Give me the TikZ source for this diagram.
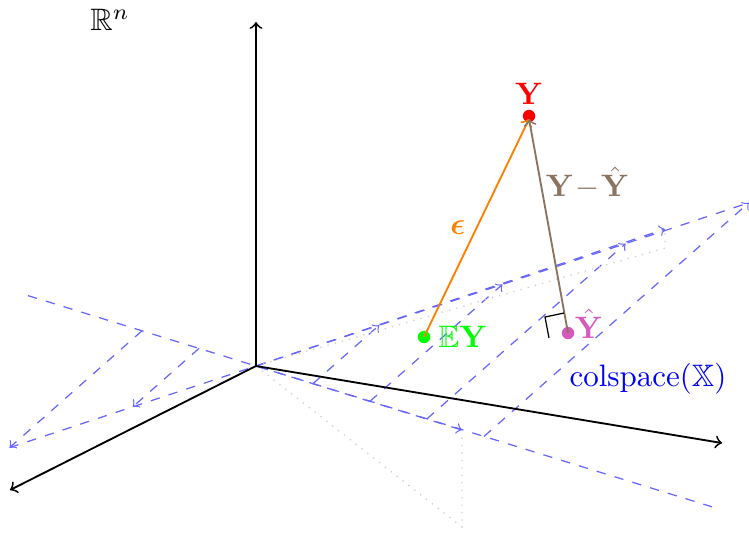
\documentclass[tikz,border=0pt]{standalone}
\usepackage{amsmath}
\usepackage{amssymb}
\usepackage{bm}
\usepackage{xcolor}
\usepackage{tikz}
\usetikzlibrary{positioning,calc}
\definecolor{pHat}{RGB}{214,90,190}
\definecolor{pRes}{RGB}{140,115,95}
\tikzset{
  axis/.style={->, semithick, black},
  planeline/.style={dashed, blue!60, thin},
  planevec/.style={planeline, ->},
  proj/.style={dotted, gray!40, thin},
  pt/.style={circle, inner sep=0pt, minimum size=4pt},
  seg/.style={->, semithick},
}
\begin{document}
\begin{tikzpicture}[x=0.01134cm, y=0.01134cm]
  \useasboundingbox (-256,-166) rectangle (493,366);

  \coordinate (O) at (0,0);
  % directions spanning the column space
  \coordinate (r) at (57,-17.6);
  \coordinate (s) at (123.2,40.8);
  \coordinate (x1) at (206,-64);
  \coordinate (x2) at (409,137);
  \coordinate (x1f) at (206,-161);
  \coordinate (x2f) at (409,118);

  % the plane
  \draw[planeline] ($-4*(r)$) -- ($8*(r)$);
  \draw[planeline] ($-2*(s)$) -- ($4*(s)$);
  \foreach \k in {-2,-1,1,2,3,4}
    \draw[planevec] ($\k*(r)$) -- ($\k*(s)$);
  \draw[planevec] (O) -- (x1);
  \draw[planevec] (O) -- (x2);

  % projections onto the floor
  \draw[proj] (O) -- (x1f) -- (x1);
  \draw[proj] (O) -- (x2f) -- (x2);

  % axes
  \coordinate (az) at (0,344);
  \coordinate (ax) at (-246,-124);
  \coordinate (ay) at (466,-77);
  \draw[axis] (O) -- (az);
  \draw[axis] (O) -- (ax);
  \draw[axis] (O) -- (ay);

  \node (Rn) at (-146,346) {$\mathbb{R}^n$};
  \node[blue] (cs) at (392,-13) {colspace($\bm{\mathbb{X}}$)};

  % observation, mean and fit
  \node[pt, fill=red] (Y) at (273,250) {};
  \node[pt, fill=green] (EY) at (168,29) {};
  \node[pt, fill=pHat] (Yh) at (312,33) {};

  \draw[seg, orange] (EY.center) -- node[left]{$\bm{\epsilon}$} ($(Y.center)+(0,-3)$);
  \draw[seg, pRes] (Yh.center) -- node[right, pos=0.7, xshift=-2pt]{$\mathbf{Y}\!-\!\hat{\mathbf{Y}}$} ($(Y.center)+(0,-3)$);
  \draw[thin] ($(Yh)+(-4,20)$) -- ++(-19,-4) -- ++(4,-21);

  \node[red, above=-2pt of Y] (Ylbl) {$\mathbf{Y}$};
  \node[green, right=-1pt of EY] (EYlbl) {$\bm{\mathbb{E}}\mathbf{Y}$};
  \node[pHat, right=-3.5pt of Yh, yshift=3pt] (Yhlbl) {$\hat{\mathbf{Y}}$};
\end{tikzpicture}
\end{document}
